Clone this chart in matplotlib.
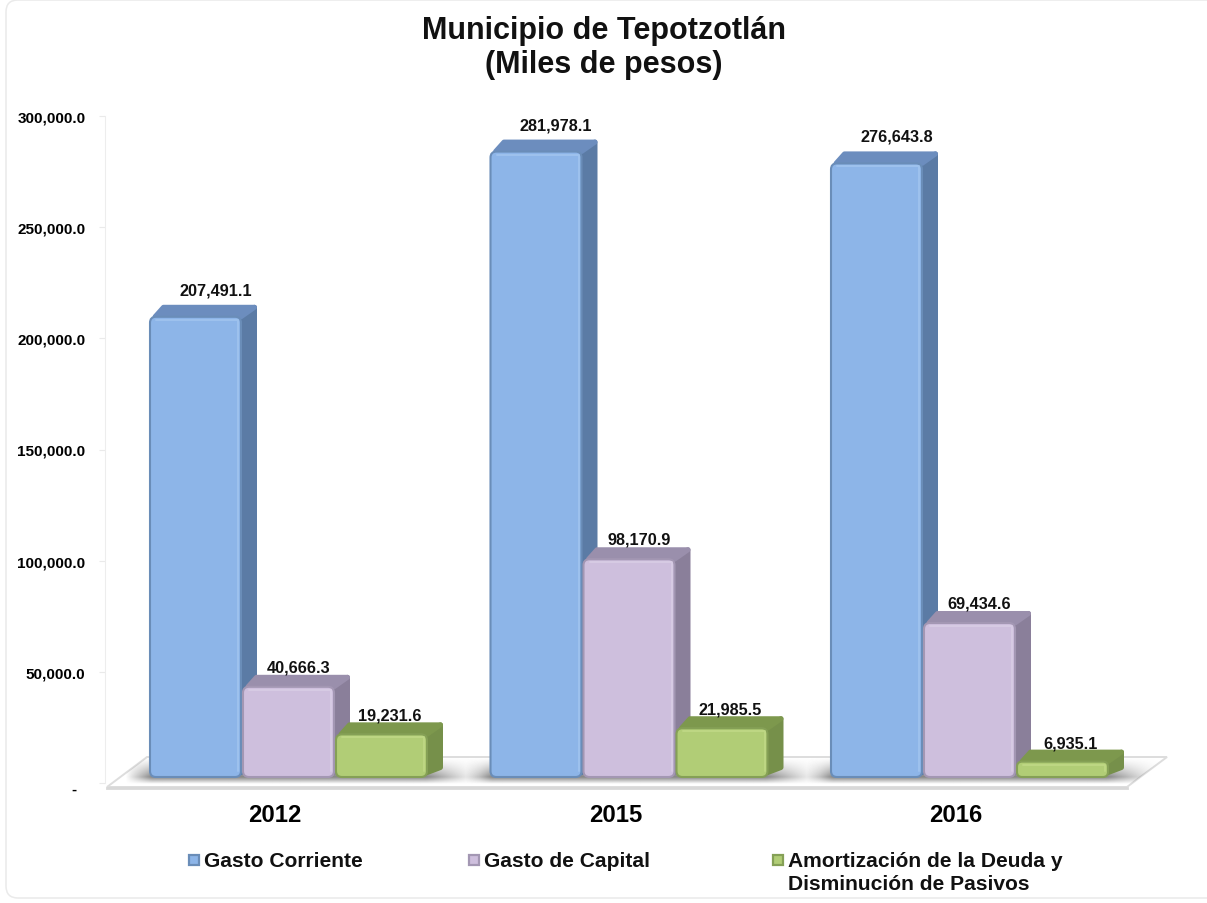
import matplotlib
matplotlib.use("Agg")
import matplotlib.pyplot as plt
import numpy as np
from matplotlib.patches import FancyBboxPatch, Polygon, Rectangle
from matplotlib.transforms import Affine2D

plt.rcParams['font.family'] = ['Liberation Sans', 'DejaVu Sans']
plt.rcParams['font.weight'] = 'bold'

years = ["2012", "2015", "2016"]
series_names = ["Gasto Corriente", "Gasto de Capital",
                "Amortización de la Deuda y\nDisminución de Pasivos"]
gasto_corriente = [207491.1, 281978.1, 276643.8]
gasto_capital = [40666.3, 98170.9, 69434.6]
amortizacion = [19231.6, 21985.5, 6935.1]
y_ticks = [0, 50000, 100000, 150000, 200000, 250000, 300000]
y_tick_labels = ["-  ", "50,000.0", "100,000.0", "150,000.0", "200,000.0", "250,000.0", "300,000.0"]

# front, edge, side, top, highlight
colors = [("#8DB5E8", "#6A8DB8", "#5B7BA5", "#6C8DBE", "#A9CBF2"),
          ("#CEBFDD", "#A397B3", "#8A7F9A", "#9A8FAC", "#DDD2E8"),
          ("#B1CD76", "#85A056", "#76904A", "#7D984D", "#C6DE8E")]
label_offset = [(20, 27), (10, 20), (8, 19)]

W, H = 1207, 904
fig = plt.figure(figsize=(W / 100, H / 100), dpi=100, facecolor="white")

# image pixels, y going down
px = Affine2D().scale(1, -1).translate(0, H)

group_gap = 340.5
group_mid = 288.5
y_per_px = 50000 / 110.9
base_px = 778


def xd(p):
    return (p - group_mid) / group_gap


def yd(p):
    return (base_px - p) * y_per_px


# axis with the ticks; year labels sit a little left of the bar groups
axt = fig.add_axes([105 / W, (H - 784) / H, 1065 / W, 667 / H])
axt.set_ylim(0, 300000)
axt.set_xlim(xd(105 + 13.5), xd(1170 + 13.5))
axt.set_yticks(y_ticks)
axt.set_yticklabels(y_tick_labels, fontsize=11)
axt.set_xticks(range(len(years)))
axt.set_xticklabels(years, fontsize=17.2)
axt.tick_params(axis="y", length=4, color="#EAEAEA", pad=10)
axt.tick_params(axis="x", length=0, pad=14.5)
for s in ["top", "right", "bottom"]:
    axt.spines[s].set_visible(False)
axt.spines["left"].set_color("#EDEDED")
axt.patch.set_visible(False)
zero_label = axt.get_yticklabels()[0]
zero_label.set_transform(zero_label.get_transform() + Affine2D().translate(0, -5))

# main axis over the whole figure, for the bars
ax = fig.add_axes([0, 0, 1, 1], zorder=3)
ax.patch.set_visible(False)
ax.axis("off")

# outer frame
fig.add_artist(FancyBboxPatch((6, 1), 1215, 898, boxstyle="round,pad=0,rounding_size=12",
                              transform=px, fc="none", ec="#EAEAEA", lw=1.1, zorder=0))

# floor
floor = Polygon([(107, 788), (1127, 788), (1167, 758), (147, 758)], closed=True,
                transform=px, fc="white", ec="#DDDDDD", lw=1.4, zorder=1)
ax.add_patch(floor)
ax.plot([107, 1127], [789, 789], color="#D8D8D8", lw=2, transform=px, zorder=1)

# soft shadow on the floor, one per group
yy = np.linspace(758, 788, 60)
fade_y = np.where(yy < 778, ((yy - 758) / 20) ** 1.3, np.clip(1 - (yy - 778) / 7, 0, 1))
for i in range(len(years)):
    left = group_mid + i * group_gap - 138
    right = group_mid + i * group_gap + 138
    xx = np.linspace(left - 26, right + 55, 200)
    fade_x = np.clip((right + 55 - xx) / 55, 0, 1) ** 1.2 * np.clip((xx - left + 26) / 26, 0, 1)
    rgba = np.zeros((60, 200, 4))
    rgba[..., :3] = 0.40
    rgba[..., 3] = 0.8 * np.outer(fade_y, fade_x)
    im = ax.imshow(rgba, extent=(xd(left - 26), xd(right + 55), yd(788), yd(758)),
                   origin="upper", aspect="auto", zorder=1.5, interpolation="bilinear")
    im.set_clip_path(floor)

ax.set_xlim(xd(0), xd(W))
ax.set_ylim(yd(H), yd(0))

bar_w = 91 / group_gap
step = 93 / group_gap
dx = 13.5 / group_gap
dy = 9.5 * y_per_px
grow_x = 2.5 / group_gap
grow_y = 2.5 * y_per_px
round_x = 6 / group_gap
aspect = y_per_px * group_gap

z = 2
for g in range(len(years)):
    for j, values in enumerate([gasto_corriente, gasto_capital, amortizacion]):
        v = values[g]
        x0 = g + (j - 1) * step - bar_w / 2
        x1 = x0 + bar_w
        front, edge, side, top, light = colors[j]
        r = min(round_x, v / y_per_px / 3 / group_gap)
        # thick round-joined edges give the back faces their soft corners
        ax.add_patch(Polygon([(x1 - 2 * grow_x, grow_y), (x1 + dx, dy), (x1 + dx, v + dy),
                              (x1 - 2 * grow_x, v)], closed=True, fc=side, ec=side, lw=3.6,
                             joinstyle="round", zorder=z))
        ax.add_patch(Polygon([(x0 + 2 * grow_x, v), (x0 + dx, v + dy), (x1 + dx, v + dy), (x1, v)],
                             closed=True, fc=top, ec=top, lw=3.6, joinstyle="round", zorder=z))
        ax.add_patch(FancyBboxPatch((x0, 0), bar_w, v,
                                    boxstyle="round,pad=0,rounding_size=%f" % r,
                                    mutation_aspect=aspect, fc=front, ec=edge, lw=1.5, zorder=z + 0.1))
        # bevel highlight along top and right
        inset_x = 3 / group_gap
        inset_y = 3 * y_per_px
        ax.plot([x0 + 2 * inset_x, x1 - inset_x, x1 - inset_x],
                [v - inset_y, v - inset_y, 2 * inset_y], color=light, lw=1.4, alpha=0.6,
                solid_capstyle="round", solid_joinstyle="round", zorder=z + 0.2)
        off = label_offset[j]
        ax.annotate(f"{v:,.1f}", xy=((x0 + x1) / 2, v), xytext=off, textcoords="offset pixels",
                    ha="center", va="center", fontsize=11.7, color="#111111", zorder=20)
        z += 1

# title
ax.text(604, 48, "Municipio de Tepotzotlán\n(Miles de pesos)", transform=px, ha="center",
        va="center", fontsize=22, linespacing=1.15, color="#111111", zorder=20)

# legend
legend_x = [194, 474, 778]
for x, name, c in zip(legend_x, series_names, colors):
    ax.add_patch(Rectangle((x - 5, 856), 10, 10, transform=px, fc=c[0], ec=c[1], lw=1.6, zorder=20))
    ax.text(x + 10, 862, name.split("\n")[0], transform=px, va="center", fontsize=15.1,
            color="#111111", zorder=20)
    if "\n" in name:
        ax.text(x + 10, 885, name.split("\n")[1], transform=px, va="center", fontsize=15.1,
                color="#111111", zorder=20)

fig.savefig("out.png", dpi=100, facecolor="white")
